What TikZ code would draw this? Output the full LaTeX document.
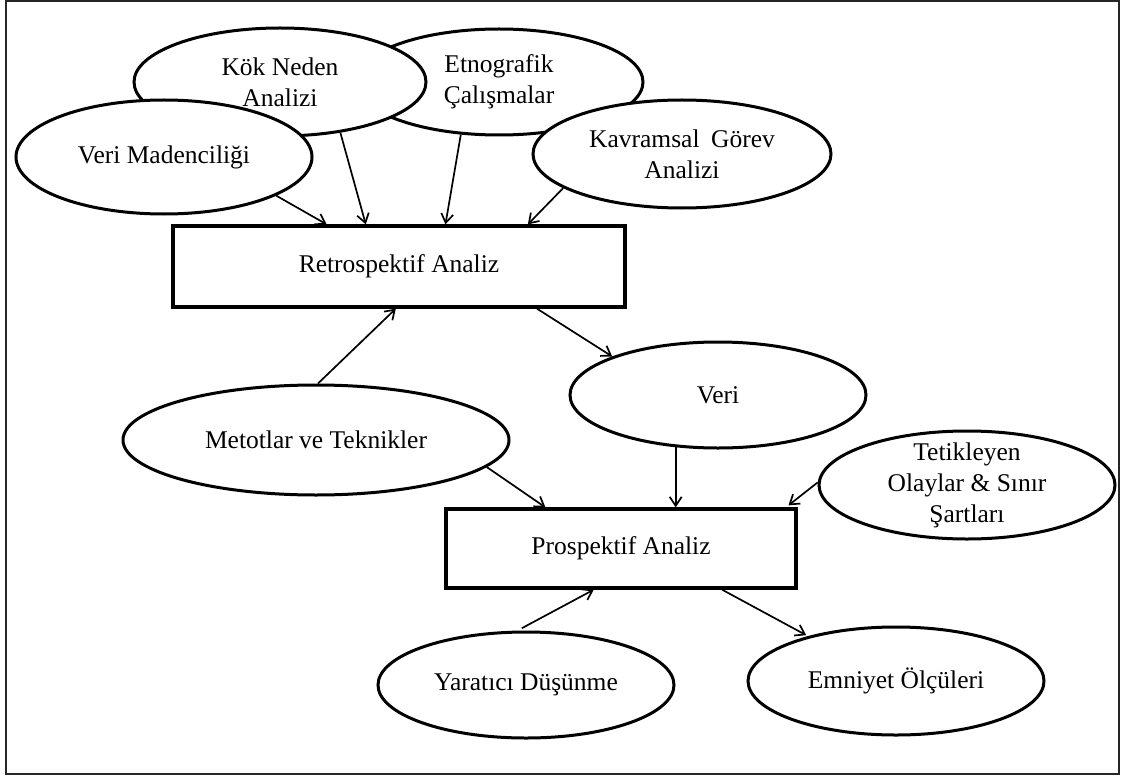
\documentclass[tikz,border=0pt]{standalone}
\usepackage{fontspec}
\setmainfont{Liberation Serif}
\usetikzlibrary{shapes.geometric,arrows.meta,calc}

\begin{document}
\begin{tikzpicture}[x=1pt,y=-1pt,
  every node/.style={font=\fontsize{25.5}{31}\selectfont, align=center},
  oval/.style={ellipse, draw, line width=3pt, fill=white, inner sep=0pt,
    minimum width=296pt, minimum height=108pt},
  stage/.style={rectangle, draw, line width=3.3pt, fill=white, inner sep=0pt},
  link/.style={line width=1.7pt, -{Straight Barb[length=9pt,width=12pt]}},
]
\useasboundingbox (0,0) rectangle (1123,778);
% frame
\draw[line width=2pt, draw=black!85] (6,1) rectangle (1119,774);

% source methods of the retrospective analysis (drawn back to front)
\node[oval, minimum width=288pt, minimum height=106pt] (etno) at (499,82) {Etnografik\\Çalışmalar};
\node[oval, minimum width=292pt, minimum height=108pt] (kok) at (280,82) {Kök Neden\\Analizi};
\node[oval, minimum width=296pt, minimum height=114pt] (vm) at (164,157) {Veri Madenciliği};
\node[oval, minimum width=298pt, minimum height=108pt] (kav) at (682,154) {Kavramsal\hspace{0.45em}Görev\\Analizi};

\node[stage, minimum width=452pt, minimum height=81pt] (retro) at (399,266.5) {Retrospektif Analiz};

\node[oval, minimum width=296pt, minimum height=106pt] (veri) at (718,395) {Veri};
\node[oval, minimum width=386pt, minimum height=110pt] (met) at (316,440) {Metotlar ve Teknikler};
\node[oval, minimum width=296pt, minimum height=108pt, inner ysep=-8pt] (tet) at (967,485) {Tetikleyen\\Olaylar \& Sınır\\Şartları};

\node[stage, minimum width=350pt, minimum height=79pt] (pro) at (621,548.5) {Prospektif Analiz};

\node[oval, minimum width=296pt, minimum height=106pt] (yar) at (526,685) {Yaratıcı Düşünme};
\node[oval, minimum width=296pt, minimum height=108pt] (emn) at (896,681) {Emniyet Ölçüleri};

% connectors
\draw[link] (vm.-19.6) -- ($(retro.north west)!0.341!(retro.north east)$);
\draw[link] (kok.-40.8) -- ($(retro.north west)!0.427!(retro.north east)$);
\draw[link] (etno.-126.7) -- ($(retro.north west)!0.602!(retro.north east)$);
\draw[link] (kav.-164.8) -- ($(retro.north west)!0.783!(retro.north east)$);
\draw[link] ($(retro.south west)!0.803!(retro.south east)$) -- (veri.160.3);
\draw[link] (met.88) -- ($(retro.south west)!0.493!(retro.south east)$);
\draw[link] (met.-9.5) -- ($(pro.north west)!0.286!(pro.north east)$);
\draw[link] (veri.-129) -- (veri.-129 |- pro.north);
\draw[link] (tet.179) -- ($(pro.north west)!0.974!(pro.north east)+(0,-2)$);
\draw[link, shorten <=5pt] (yar.99) -- ($(pro.south west)!0.423!(pro.south east)$);
\draw[link, shorten >=2pt] ($(pro.south west)!0.786!(pro.south east)$) -- (emn.153.7);
\end{tikzpicture}
\end{document}
